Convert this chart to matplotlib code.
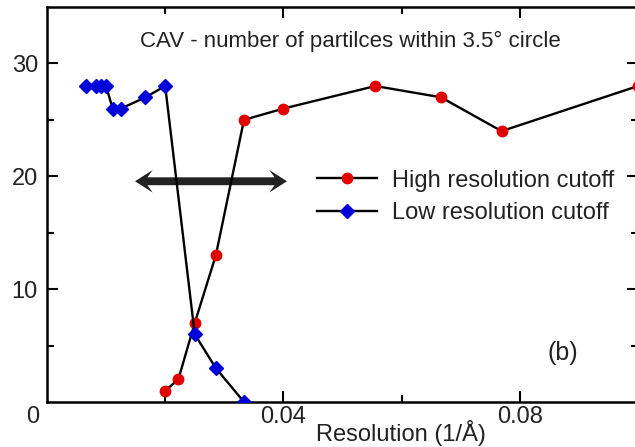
import matplotlib
matplotlib.use("Agg")
import matplotlib.pyplot as plt
from matplotlib.patches import FancyArrow
from matplotlib.ticker import FixedLocator

plt.rcParams['font.family'] = ['Liberation Sans', 'DejaVu Sans']

# High resolution cutoff series (1/Å, particle count)
high_res_x = [1/50, 1/45, 1/40, 1/35, 1/30, 1/25, 1/18, 1/15, 1/13, 1/10]
high_res_y = [1, 2, 7, 13, 25, 26, 28, 27, 24, 28]

# Low resolution cutoff series
low_res_x = [1/150, 1/120, 1/110, 1/100, 1/90, 1/80, 1/60, 1/50, 1/40, 1/35, 1/30]
low_res_y = [28, 28, 28, 28, 26, 26, 27, 28, 6, 3, 0]

title_text = "CAV - number of partilces within 3.5° circle"
x_label = "Resolution (1/Å)"
panel_tag = "(b)"
y_ticks = [10, 20, 30]
x_ticks = [0.04, 0.08]

fig = plt.figure(figsize=(6.35, 4.47), dpi=100)
ax = fig.add_axes([0.074, 0.1007, 0.9307, 0.8836])

red = "#e00000"
blue = "#0000d8"
text_col = "#222222"

ax.plot(high_res_x, high_res_y, color="black", lw=1.7, marker="o", ms=7.5,
        mfc=red, mec=red, label="High resolution cutoff", zorder=3)
ax.plot(low_res_x, low_res_y, color="black", lw=1.7, marker="D", ms=7.3,
        mfc=blue, mec=blue, label="Low resolution cutoff", zorder=3)

# double-headed range arrow
arrow_y = 19.56
left_tip, right_tip = 0.01489, 0.04061
mid = (left_tip + right_tip) / 2
for tip in (left_tip, right_tip):
    ax.add_patch(FancyArrow(mid, arrow_y, tip - mid, 0, width=0.7, head_width=2.0,
                            head_length=0.0030, length_includes_head=True,
                            overhang=0.3, color=text_col, lw=0, zorder=2))

ax.set_xlim(0, 0.1)
ax.set_ylim(0, 35)
ax.xaxis.set_major_locator(FixedLocator(x_ticks))
ax.xaxis.set_minor_locator(FixedLocator([0.02, 0.06, 0.1]))
ax.yaxis.set_major_locator(FixedLocator(y_ticks))
ax.yaxis.set_minor_locator(FixedLocator([5, 15, 25]))
ax.set_xticklabels([f"{v:.2f}" for v in x_ticks])
ax.set_yticklabels([str(v) for v in y_ticks])

for s in ax.spines.values():
    s.set_linewidth(1.8)
ax.tick_params(which="both", direction="in", top=True, right=True,
               width=1.5, labelsize=17, colors="black", labelcolor=text_col)
ax.tick_params(which="major", length=8)
ax.tick_params(which="minor", length=5)
ax.tick_params(axis="x", which="major", pad=3)
ax.tick_params(axis="y", which="major", pad=6.5)

ax.text(-0.025, -0.038, "0", transform=ax.transAxes, ha="center", va="center",
        fontsize=17, color=text_col)
ax.text(0.599, -0.078, x_label, transform=ax.transAxes, ha="center", va="center",
        fontsize=17, color=text_col)
ax.text(0.514, 0.914, title_text, transform=ax.transAxes, ha="center", va="center",
        fontsize=16, color=text_col)
ax.text(0.873, 0.124, panel_tag, transform=ax.transAxes, ha="center", va="center",
        fontsize=18, color=text_col)

leg = ax.legend(loc="center left", bbox_to_anchor=(0.457, 0.519), frameon=False,
                fontsize=17, handlelength=2.54, handletextpad=0.64,
                labelspacing=0.45, borderaxespad=0, borderpad=0)
for t in leg.get_texts():
    t.set_color(text_col)

fig.savefig("out.png", dpi=100)
